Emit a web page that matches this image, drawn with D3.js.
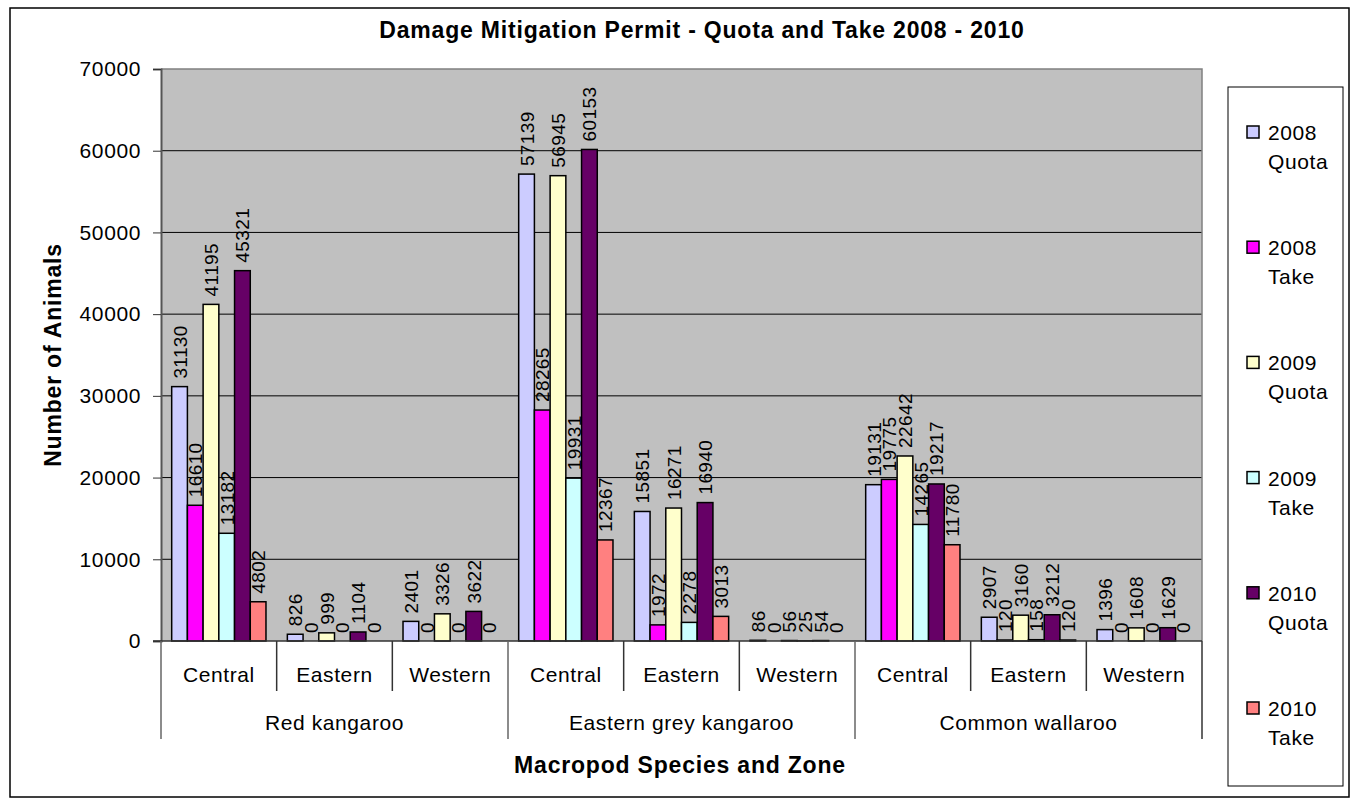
<!DOCTYPE html>
<html>
<head>
<meta charset="utf-8">
<script src="https://cdn.jsdelivr.net/npm/d3@7"></script>
<style>
  body { margin: 0; background: #fff; }
  svg text { font-family: "Liberation Sans", Arial, sans-serif; fill: #000; }
</style>
</head>
<body>
<svg width="1353" height="804"></svg>
<script>
(function (d3) {
  'use strict'

  // categorías
  const species = ['Red kangaroo', 'Eastern grey kangaroo', 'Common wallaroo'];
  const zones = ['Central', 'Eastern', 'Western'];
  const seriesNames = ['2008 Quota', '2008 Take', '2009 Quota', '2009 Take', '2010 Quota', '2010 Take'];
  const seriesColors = ['#CCCCFF', '#FF00FF', '#FFFFCC', '#CCFFFF', '#660066', '#FF8080'];
  const yTicks = [0, 10000, 20000, 30000, 40000, 50000, 60000, 70000];

  // valores por serie (orden: especie x zona)
  const quota2008 = [31130, 826, 2401, 57139, 15851, 86, 19131, 2907, 1396];
  const take2008  = [16610, 0, 0, 28265, 1972, 0, 19775, 120, 0];
  const quota2009 = [41195, 999, 3326, 56945, 16271, 56, 22642, 3160, 1608];
  const take2009  = [13182, 0, 0, 19931, 2278, 25, 14265, 158, 0];
  const quota2010 = [45321, 1104, 3622, 60153, 16940, 54, 19217, 3212, 1629];
  const take2010  = [4802, 0, 0, 12367, 3013, 0, 11780, 120, 0];
  const seriesValues = [quota2008, take2008, quota2009, take2009, quota2010, take2010];

  const svg = d3.select('svg');
  const plot = { left: 161, right: 1202, top: 69, bottom: 641 };

  // borde exterior
  svg.append('rect')
    .attr('x', 10).attr('y', 8).attr('width', 1339).attr('height', 789)
    .attr('fill', '#fff').attr('stroke', '#000').attr('stroke-width', 1.5);

  // lista de categorías combinadas
  const cats = [];
  species.forEach(s => zones.forEach(z => cats.push({ species: s, zone: z, key: s + '|' + z })));

  const xScale = d3.scaleBand().domain(cats.map(d => d.key)).range([plot.left, plot.right]);
  const xInner = d3.scaleBand().domain(seriesNames).range([0, xScale.bandwidth()]).paddingOuter(0.68);
  const yScale = d3.scaleLinear().domain([0, 70000]).range([plot.bottom, plot.top]);

  // fondo del área
  svg.append('rect')
    .attr('x', plot.left).attr('y', plot.top)
    .attr('width', plot.right - plot.left).attr('height', plot.bottom - plot.top)
    .attr('fill', '#C0C0C0');

  // líneas de cuadrícula
  svg.append('g').selectAll('line').data(yTicks.slice(1, -1)).enter().append('line')
    .attr('x1', plot.left).attr('x2', plot.right)
    .attr('y1', d => yScale(d)).attr('y2', d => yScale(d))
    .attr('stroke', '#000').attr('stroke-width', 1);

  // borde del área
  svg.append('path')
    .attr('d', `M${plot.left},${plot.top}H${plot.right}V${plot.bottom}`)
    .attr('fill', 'none').attr('stroke', '#808080').attr('stroke-width', 1.5);

  // barras
  const grupos = svg.append('g').selectAll('g').data(seriesNames).enter().append('g')
    .attr('fill', (d, i) => seriesColors[i]);

  grupos.selectAll('rect')
    .data((s, i) => cats.map((c, j) => ({ cat: c.key, serie: s, value: seriesValues[i][j] })))
    .enter().append('rect')
    .attr('x', d => xScale(d.cat) + xInner(d.serie))
    .attr('y', d => yScale(d.value))
    .attr('width', xInner.bandwidth())
    .attr('height', d => yScale(0) - yScale(d.value))
    .attr('stroke', '#000').attr('stroke-width', 1.5);

  // etiquetas de valor
  grupos.selectAll('text')
    .data((s, i) => cats.map((c, j) => ({ cat: c.key, serie: s, value: seriesValues[i][j] })))
    .enter().append('text')
    .attr('transform', d => `translate(${xScale(d.cat) + xInner(d.serie) + xInner.bandwidth() / 2 + 7}, ${yScale(d.value) - 8}) rotate(-90)`)
    .attr('font-size', 19).attr('letter-spacing', 0.4)
    .text(d => d.value);

  // eje Y
  const yEje = svg.append('g')
    .attr('transform', `translate(${plot.left}, 0)`)
    .call(d3.axisLeft(yScale).tickValues(yTicks).tickSize(8).tickPadding(12).tickFormat(d3.format('d')));
  yEje.select('.domain').attr('stroke', '#555').attr('stroke-width', 2);
  yEje.selectAll('.tick line').attr('stroke', '#333');
  yEje.selectAll('.tick text')
    .attr('font-size', 21).attr('letter-spacing', 0.6)
    .attr('font-family', '"Liberation Sans", Arial, sans-serif').attr('fill', '#000');

  // eje X: línea base y separadores
  svg.append('line')
    .attr('x1', plot.left - 8).attr('x2', plot.right)
    .attr('y1', plot.bottom).attr('y2', plot.bottom)
    .attr('stroke', '#333').attr('stroke-width', 1.5);

  svg.append('g').selectAll('line').data(cats).enter().append('line')
    .attr('x1', d => xScale(d.key)).attr('x2', d => xScale(d.key))
    .attr('y1', plot.bottom)
    .attr('y2', (d, i) => i % 3 === 0 ? 739 : 691)
    .attr('stroke', (d, i) => i % 3 === 0 ? '#666' : '#333').attr('stroke-width', 1.5);
  svg.append('line')
    .attr('x1', plot.right).attr('x2', plot.right)
    .attr('y1', plot.bottom).attr('y2', 739)
    .attr('stroke', '#333').attr('stroke-width', 1.5);

  svg.append('g').selectAll('text').data(cats).enter().append('text')
    .attr('x', d => xScale(d.key) + xScale.bandwidth() / 2)
    .attr('y', 682)
    .attr('text-anchor', 'middle')
    .attr('font-size', 21).attr('letter-spacing', 0.6)
    .text(d => d.zone);

  svg.append('g').selectAll('text').data(species).enter().append('text')
    .attr('x', (d, i) => xScale(cats[i * 3].key) + xScale.bandwidth() * 1.5)
    .attr('y', 730)
    .attr('text-anchor', 'middle')
    .attr('font-size', 21).attr('letter-spacing', 0.6)
    .text(d => d);

  // títulos
  svg.append('text')
    .text('Damage Mitigation Permit - Quota and Take 2008 - 2010')
    .attr('x', 702).attr('y', 38)
    .attr('text-anchor', 'middle')
    .attr('font-size', 23).attr('font-weight', 'bold').attr('letter-spacing', 0.8);

  svg.append('text')
    .text('Macropod Species and Zone')
    .attr('x', 680).attr('y', 773)
    .attr('text-anchor', 'middle')
    .attr('font-size', 23).attr('font-weight', 'bold').attr('letter-spacing', 0.8);

  svg.append('text')
    .text('Number of Animals')
    .attr('transform', `translate(61, ${(plot.top + plot.bottom) / 2}) rotate(-90)`)
    .attr('text-anchor', 'middle')
    .attr('font-size', 23).attr('font-weight', 'bold').attr('letter-spacing', 0.8);

  // leyenda
  const leyenda = svg.append('g');
  leyenda.append('rect')
    .attr('x', 1228).attr('y', 87).attr('width', 115).attr('height', 699)
    .attr('fill', '#fff').attr('stroke', '#000').attr('stroke-width', 1);

  const items = leyenda.selectAll('g.item').data(seriesNames).enter().append('g')
    .attr('class', 'item')
    .attr('transform', (d, i) => `translate(1247, ${132 + i * 115.2})`);
  items.append('rect')
    .attr('x', 0).attr('y', -6).attr('width', 12).attr('height', 12)
    .attr('fill', (d, i) => seriesColors[i])
    .attr('stroke', '#000').attr('stroke-width', 1.5);
  items.append('text')
    .attr('x', 21).attr('y', 8)
    .attr('font-size', 21).attr('letter-spacing', 0.6)
    .text(d => d.split(' ')[0]);
  items.append('text')
    .attr('x', 21).attr('y', 37)
    .attr('font-size', 21).attr('letter-spacing', 0.6)
    .text(d => d.split(' ')[1]);

}(d3));
</script>
</body>
</html>
